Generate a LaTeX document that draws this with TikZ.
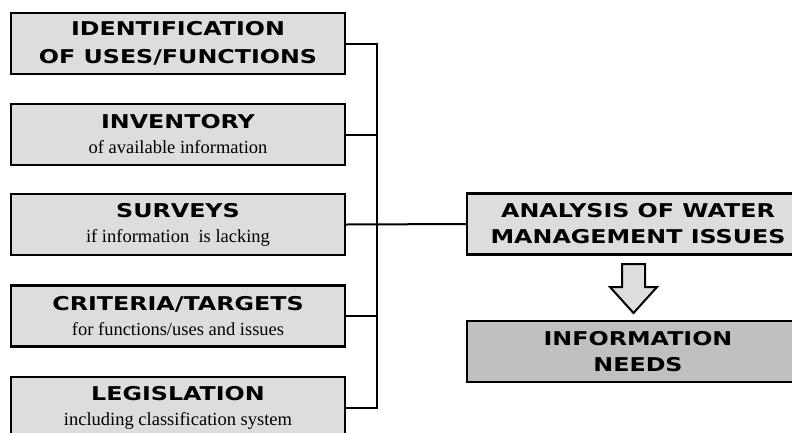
\documentclass[tikz,border=0pt]{standalone}
\usepackage{fontspec}
\setmainfont{Liberation Serif}
\newfontfamily\headfont[FakeStretch=1.25]{DejaVu Sans}
\newcommand{\hdtxt}{\headfont\bfseries\fontsize{19}{26}\selectfont}
\newcommand{\subtxt}{\rmfamily\fontsize{18.5}{26}\selectfont}
\definecolor{boxgray}{RGB}{221,221,221}
\definecolor{needgray}{RGB}{192,192,192}

\begin{document}
\begin{tikzpicture}[x=1pt,y=-1pt,
  box/.style={draw,line width=2.2pt,fill=boxgray,minimum width=334pt,
    minimum height=61pt,inner sep=0pt,align=center,
    font=\fontsize{18.5}{26}\selectfont},
  wide/.style={box,minimum width=342pt},
  conn/.style={line width=2pt}]
  \useasboundingbox (0,0) rectangle (792,432);
  \node[box] (b1) at (178,43.5) {\hdtxt IDENTIFICATION\\[2pt]\hdtxt OF USES/FUNCTIONS};
  \node[box] (b2) at (178,134.5) {\hdtxt INVENTORY\\[-1pt]\subtxt of available information};
  \node[box] (b3) at (178,224.5) {\hdtxt SURVEYS\\[-1pt]\subtxt if information\ \ is lacking};
  \node[box] (b4) at (178,316) {\hdtxt CRITERIA/TARGETS\\[-1pt]\subtxt for functions/uses and issues};
  \node[box] (b5) at (178,407.5) {\hdtxt LEGISLATION\\[-1pt]\subtxt including classification system};
  \node[wide] (an) at (638,224) {\hdtxt ANALYSIS OF WATER\\\hdtxt MANAGEMENT ISSUES};
  \node[wide,fill=needgray] (need) at (638,351.5) {\hdtxt INFORMATION\\\hdtxt NEEDS};
  \coordinate (bus) at (377,0);
  % bus to the left column
  \draw[conn] (b1.east) -- (b1.east -| bus) -- (b5.east -| bus) -- (b5.east);
  \draw[conn] (b2.east) -- (b2.east -| bus);
  \draw[conn] (b4.east) -- (b4.east -| bus);
  \draw[conn] (b3.east) -- (an.west);
  % hollow arrow
  \draw[line width=2pt,fill=boxgray,line join=miter]
    (622,264) -- (645,264) -- (645,287) -- (657,287) -- (633.5,313)
    -- (610,287) -- (622,287) -- cycle;
\end{tikzpicture}
\end{document}
